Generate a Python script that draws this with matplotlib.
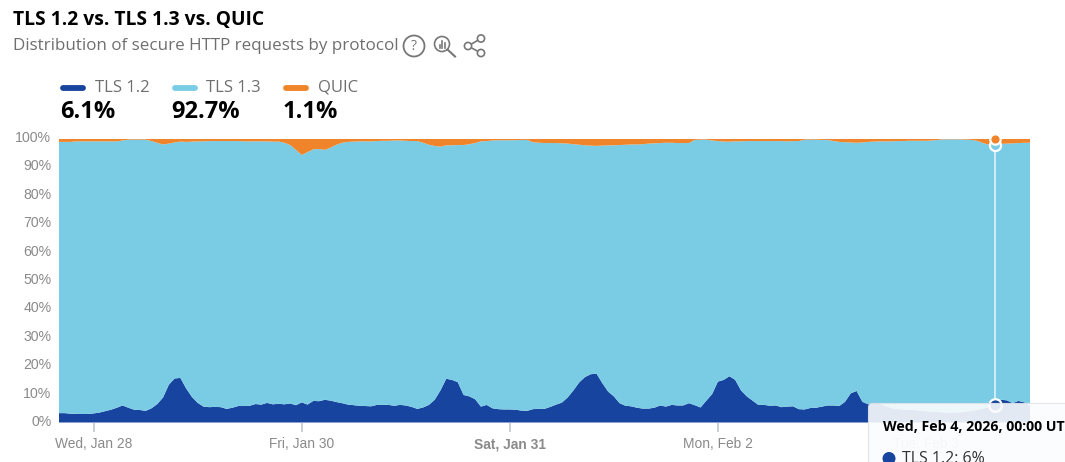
"""TLS 1.2 vs. TLS 1.3 vs. QUIC: hourly share of secure HTTP requests."""
import matplotlib
matplotlib.use("Agg")
import matplotlib.dates as mdates
import matplotlib.pyplot as plt
import pandas as pd
from matplotlib.patches import Circle, FancyBboxPatch
from matplotlib.transforms import ScaledTranslation

W, H = 1065, 462

tls12 = [
    3.3, 3.3, 3.1, 3.0, 3.0, 3.0, 3.2, 3.5, 4.0, 4.5, 5.2, 6.0, 5.2, 4.5, 4.4, 4.1, 5.0, 6.5, 8.8, 13.3,
    15.5, 15.7, 12.0, 9.0, 6.9, 5.6, 5.4, 5.5, 5.4, 4.8, 5.2, 5.8, 5.8, 5.9, 6.5, 6.3, 6.9, 6.4, 6.6, 6.4,
    6.7, 6.1, 7.1, 6.3, 7.6, 7.5, 8.0, 7.7, 7.2, 6.8, 6.3, 6.1, 5.9, 5.8, 5.7, 6.2, 6.2, 6.2, 5.9, 6.2,
    6.0, 5.5, 4.8, 5.3, 6.2, 8.0, 11.3, 15.4, 15.0, 14.2, 9.7, 9.2, 8.2, 5.6, 6.2, 5.0, 4.7, 4.6, 4.6, 4.5,
    4.2, 4.1, 4.7, 4.8, 4.8, 5.5, 6.3, 7.0, 8.8, 11.3, 14.1, 16.0, 17.0, 17.2, 13.9, 10.9, 9.2, 6.8, 5.9, 5.7,
    5.2, 4.9, 4.9, 5.2, 6.0, 5.6, 6.2, 6.0, 6.0, 6.8, 6.1, 5.3, 7.7, 10.0, 14.4, 15.0, 16.3, 15.0, 11.3, 9.2,
    7.7, 6.2, 6.2, 5.9, 6.0, 5.4, 5.6, 5.7, 4.7, 4.6, 5.1, 5.2, 5.6, 6.0, 6.0, 5.8, 7.3, 10.3, 11.1, 7.3,
    6.4, 7.0, 6.7, 5.8, 5.1, 4.8, 4.6, 4.5, 4.4, 4.2, 4.0, 3.8, 3.7, 3.6, 3.5, 3.5, 3.6, 3.8, 4.1, 4.6,
    5.0, 5.5, 6.0, 8.0, 7.8, 6.8, 7.6, 7.1, 6.0,
]
tls13 = [
    95.5, 95.5, 95.7, 96.0, 96.0, 96.0, 95.8, 95.5, 95.0, 94.5, 93.8, 93.3, 94.4, 95.1, 95.2, 95.5, 94.1, 92.0, 89.1, 84.9,
    83.1, 83.2, 86.8, 89.9, 92.1, 93.4, 93.7, 93.6, 93.7, 94.3, 93.9, 93.3, 93.2, 93.1, 92.5, 92.7, 92.1, 92.5, 92.3, 92.1,
    91.0, 89.9, 87.1, 88.9, 88.6, 88.8, 88.0, 89.1, 90.6, 91.7, 92.5, 92.8, 93.1, 93.2, 93.3, 92.9, 93.0, 93.0, 93.4, 93.1,
    93.2, 93.6, 94.3, 93.2, 91.6, 89.4, 85.8, 82.2, 82.6, 83.5, 88.0, 88.8, 90.2, 93.4, 92.9, 94.3, 94.7, 94.8, 94.8, 94.9,
    95.3, 95.4, 94.0, 93.7, 93.6, 92.9, 92.1, 91.3, 89.4, 86.7, 83.7, 81.6, 80.5, 80.2, 83.6, 86.7, 88.4, 90.9, 91.9, 92.2,
    92.7, 93.1, 93.3, 93.1, 92.4, 92.9, 92.3, 92.4, 92.4, 91.6, 93.4, 94.3, 91.9, 89.3, 84.7, 83.9, 82.6, 84.0, 87.7, 89.9,
    91.4, 92.9, 92.9, 93.2, 93.1, 93.7, 93.4, 93.4, 94.4, 95.0, 94.5, 94.4, 93.9, 93.5, 93.1, 93.0, 91.4, 88.3, 87.4, 91.3,
    92.4, 91.9, 92.3, 93.2, 93.9, 94.3, 94.5, 94.7, 94.8, 95.0, 95.2, 95.5, 95.8, 96.1, 96.2, 96.2, 96.1, 95.8, 95.4, 94.5,
    93.3, 92.3, 91.7, 90.1, 90.4, 91.5, 90.8, 91.4, 92.5,
]
quic = [
    1.2, 1.2, 1.2, 1.0, 1.0, 1.0, 1.0, 1.0, 1.0, 1.0, 1.0, 0.7, 0.4, 0.4, 0.4, 0.4, 0.9, 1.5, 2.1, 1.8,
    1.4, 1.1, 1.2, 1.1, 1.0, 1.0, 0.9, 0.9, 0.9, 0.9, 0.9, 0.9, 1.0, 1.0, 1.0, 1.0, 1.0, 1.1, 1.1, 1.5,
    2.3, 4.0, 5.8, 4.8, 3.8, 3.7, 4.0, 3.2, 2.2, 1.5, 1.2, 1.1, 1.0, 1.0, 1.0, 0.9, 0.8, 0.8, 0.7, 0.7,
    0.8, 0.9, 0.9, 1.5, 2.2, 2.6, 2.9, 2.4, 2.4, 2.3, 2.3, 2.0, 1.6, 1.0, 0.9, 0.7, 0.6, 0.6, 0.6, 0.6,
    0.5, 0.5, 1.3, 1.5, 1.6, 1.6, 1.6, 1.7, 1.8, 2.0, 2.2, 2.4, 2.5, 2.6, 2.5, 2.4, 2.4, 2.3, 2.2, 2.1,
    2.1, 2.0, 1.8, 1.7, 1.6, 1.5, 1.5, 1.6, 1.6, 1.6, 0.5, 0.4, 0.4, 0.7, 0.9, 1.1, 1.1, 1.0, 1.0, 0.9,
    0.9, 0.9, 0.9, 0.9, 0.9, 0.9, 1.0, 0.9, 0.9, 0.4, 0.4, 0.4, 0.5, 0.5, 0.9, 1.2, 1.3, 1.4, 1.5, 1.4,
    1.2, 1.1, 1.0, 1.0, 1.0, 0.9, 0.9, 0.8, 0.8, 0.8, 0.8, 0.7, 0.5, 0.3, 0.3, 0.3, 0.3, 0.4, 0.5, 0.9,
    1.7, 2.2, 2.3, 1.9, 1.8, 1.7, 1.6, 1.5, 1.5,
]
series_names = ["TLS 1.2", "TLS 1.3", "QUIC"]
summary_values = ["6.1%", "92.7%", "1.1%"]
colors = ["#17449f", "#7acce5", "#f0842b"]
tick_labels = ["Wed, Jan 28", "Fri, Jan 30", "Sat, Jan 31", "Mon, Feb 2", "Tue, Feb 3"]
y_ticks = [0, 10, 20, 30, 40, 50, 60, 70, 80, 90, 100]

hours = pd.date_range("2026-01-28 06:00", periods=len(tls12), freq="h")
tick_times = pd.date_range("2026-01-28 12:00", periods=len(tick_labels), freq="36h")
hover_time = pd.Timestamp("2026-02-04 00:00")

GREY = "#8a8a8a"
TEXT_GREY = "#6f6f6f"
UI_FONT = ["Open Sans", "DejaVu Sans"]
AXIS_FONT = ["Liberation Sans", "DejaVu Sans"]

fig = plt.figure(figsize=(W / 100, H / 100), dpi=100)
ax = fig.add_axes([59 / W, 1 - 422.5 / H, 971 / W, 284 / H])
ax.stackplot(hours, tls12, tls13, quic, colors=colors, lw=0)
ax.set_xlim(hours[0], hours[-1])
ax.set_ylim(0, 100)
for side in ax.spines.values():
    side.set_visible(False)

ax.set_yticks(y_ticks)
ax.set_yticklabels([f"{v}%" for v in y_ticks], family=AXIS_FONT, fontsize=10.2, color=GREY)
ax.tick_params(axis="y", length=0, pad=5.5)
ax.set_xticks(mdates.date2num(tick_times))
ax.set_xticklabels(tick_labels, family=AXIS_FONT, fontsize=9.9, color=GREY)
ax.tick_params(axis="x", length=6.5, width=1.2, color="#c4c8cc", pad=4.2)
ax.get_xticklabels()[2].set_fontweight("bold")
ax.get_xticklabels()[4].set_color("#c8c8c8")

# y labels sit a little above their gridline
nudge = ScaledTranslation(0, 1.5 / 72, fig.dpi_scale_trans)
for label in ax.get_yticklabels():
    label.set_transform(label.get_transform() + nudge)

# hover line and markers
i = hours.get_loc(hover_time)
stack_tops = [tls12[i], tls12[i] + tls13[i], 100]
ax.plot([hover_time, hover_time], [stack_tops[0], stack_tops[1]], color="#dff1f8", lw=1.2, zorder=3)
for top, c, size in zip(stack_tops, colors, (9, 8, 7.5)):
    ax.plot([hover_time], [top], "o", ms=size, mfc=c, mec="white", mew=1.6, zorder=4, clip_on=False)

# overlay in pixel coordinates for header, legend, icons and tooltip
ov = fig.add_axes([0, 0, 1, 1], zorder=5)
ov.set_xlim(0, W)
ov.set_ylim(H, 0)
ov.axis("off")
ov.patch.set_alpha(0)

ov.text(13, 19.5, "TLS 1.2 vs. TLS 1.3 vs. QUIC", family=UI_FONT, fontsize=13.85, fontweight="bold",
        color="black", va="center")
ov.text(13, 46, "Distribution of secure HTTP requests by protocol", family=UI_FONT, fontsize=12.25,
        color=TEXT_GREY, va="center")

for x, name, value, c in zip((60, 171.5, 283), series_names, summary_values, colors):
    ov.plot([x + 3, x + 23], [87.5, 87.5], color=c, lw=4.2, solid_capstyle="round")
    ov.text(x + 35, 88, name, family=UI_FONT, fontsize=12, color=TEXT_GREY, va="center")
    ov.text(x, 112, value, family=UI_FONT, fontsize=17, fontweight="bold", color="black", va="center")

# question icon
ov.add_patch(Circle((414, 46), 10.5, fc="none", ec="#777777", lw=1.3))
ov.text(414, 46, "?", family=UI_FONT, fontsize=10, color="#777777", ha="center", va="center")
# zoom icon
ov.add_patch(Circle((442, 44), 7.5, fc="none", ec="#777777", lw=1.2))
ov.plot([448, 455], [50, 56.5], color="#777777", lw=1.5)
for x, top in ((439.5, 45), (442, 41), (444.5, 43)):
    ov.plot([x, x], [47.5, top], color="#777777", lw=1.2)
# share icon
ov.plot([481, 468, 481], [38.5, 46, 53], color="#777777", lw=1.2)
for x, y in ((481, 38.5), (468, 46), (481, 53)):
    ov.add_patch(Circle((x, y), 3.6, fc="white", ec="#777777", lw=1.2, zorder=3))

# tooltip runs past the picture edge
ov.add_patch(FancyBboxPatch((868.5, 403.5), 260, 120, boxstyle="round,pad=0,rounding_size=4",
                            fc="#fbfcfd", ec="#dfe3e8", lw=0.8, alpha=0.9, zorder=6))
ov.text(883, 427, "Wed, Feb 4, 2026, 00:00 UTC", family=UI_FONT, fontsize=10.2, fontweight="bold",
        color="black", va="center", zorder=7)
ov.add_patch(Circle((889, 458.5), 6.5, fc=colors[0], ec="none", zorder=7))
ov.text(902, 459, "TLS 1.2: 6%", family=UI_FONT, fontsize=11.5, color="#333333", va="center", zorder=7)

fig.savefig("out.png", dpi=100)
